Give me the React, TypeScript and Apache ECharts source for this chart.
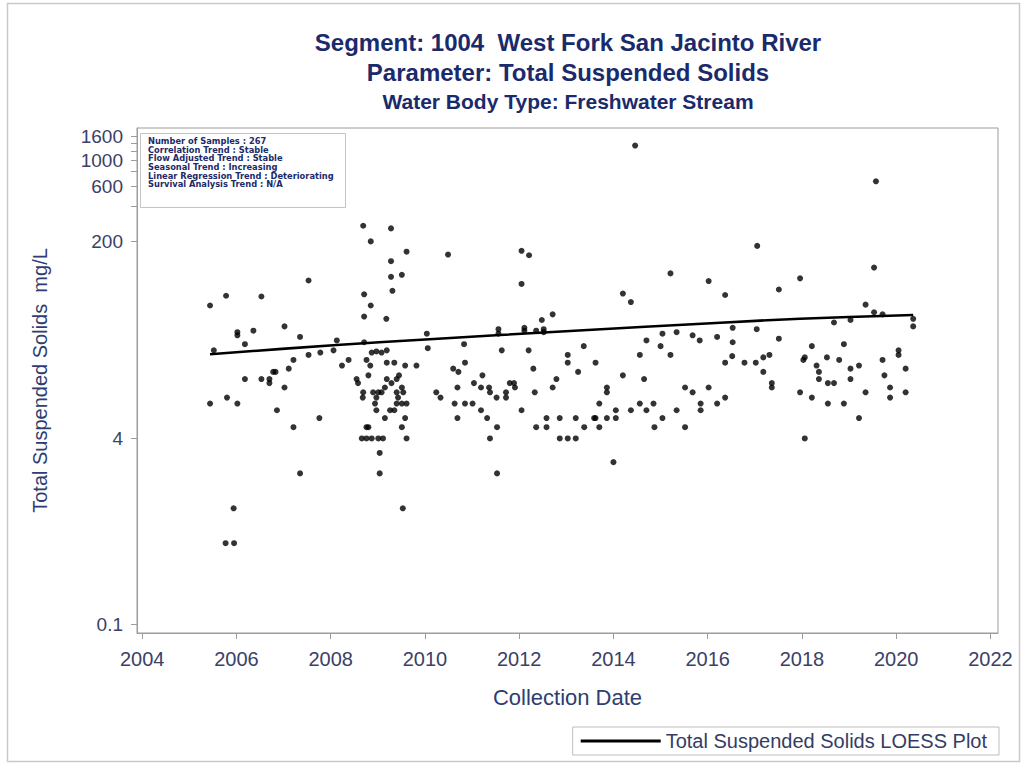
import React, { useEffect, useRef } from "react";
import * as echarts from "echarts";

const FONT = '"Liberation Sans", Arial, sans-serif';
const INFO_FONT = '"DejaVu Sans", "Liberation Sans", sans-serif';

const titleLines = [
  "Segment: 1004  West Fork San Jacinto River",
  "Parameter: Total Suspended Solids",
  "Water Body Type: Freshwater Stream",
];

const infoLines = [
  "Number of Samples : 267",
  "Correlation Trend : Stable",
  "Flow Adjusted Trend : Stable",
  "Seasonal Trend : Increasing",
  "Linear Regression Trend : Deteriorating",
  "Survival Analysis Trend : N/A",
];

const xTicks = [2004, 2006, 2008, 2010, 2012, 2014, 2016, 2018, 2020, 2022];
const yLabelTicks = [0.1, 4, 200, 600, 1000, 1600];
const yTickMarks = [0.1, 4, 200, 400, 600, 800, 1000, 1200, 1400, 1600];

const xAxisName = "Collection Date";
const yAxisName = "Total Suspended Solids  mg/L";
const loessName = "Total Suspended Solids LOESS Plot";

// [decimal year, mg/L]
const samples2005to2009: [number, number][] = [
  [2005.44, 56], [2005.44, 8], [2005.52, 23], [2005.77, 0.5], [2005.78, 68],
  [2005.8, 9], [2005.94, 1], [2005.95, 0.5], [2006.02, 33], [2006.02, 31],
  [2006.02, 8], [2006.18, 26], [2006.18, 13], [2006.36, 34], [2006.53, 67],
  [2006.53, 13], [2006.7, 13], [2006.7, 12], [2006.78, 15], [2006.83, 15],
  [2006.86, 7], [2007.02, 37], [2007.02, 11], [2007.11, 16], [2007.21, 19],
  [2007.21, 5], [2007.35, 30], [2007.35, 2], [2007.53, 92], [2007.53, 21],
  [2007.76, 6], [2007.78, 22], [2008.06, 23], [2008.13, 28], [2008.24, 17],
  [2008.38, 19], [2008.55, 13], [2008.58, 12], [2008.66, 4], [2008.68, 9],
  [2008.69, 273], [2008.69, 10], [2008.71, 70], [2008.71, 45], [2008.71, 27],
  [2008.76, 19], [2008.76, 5], [2008.76, 4], [2008.8, 14], [2008.8, 5],
  [2008.84, 17], [2008.85, 200], [2008.85, 56], [2008.87, 22], [2008.87, 4],
  [2008.9, 10], [2008.94, 8], [2008.97, 22.5], [2008.97, 9], [2008.97, 7],
  [2009.01, 10], [2009.01, 4], [2009.04, 3], [2009.04, 2], [2009.08, 22],
  [2009.08, 10], [2009.11, 4], [2009.15, 11], [2009.15, 6], [2009.18, 43],
  [2009.19, 23], [2009.19, 18], [2009.19, 13], [2009.26, 7], [2009.28, 259],
  [2009.28, 135], [2009.28, 99], [2009.29, 12], [2009.31, 75], [2009.35, 18],
  [2009.35, 7], [2009.4, 13], [2009.4, 10], [2009.4, 8], [2009.43, 9],
  [2009.45, 14], [2009.51, 103], [2009.51, 11], [2009.51, 8], [2009.51, 5],
  [2009.53, 1], [2009.54, 10], [2009.58, 17], [2009.58, 6], [2009.61, 163],
  [2009.61, 8], [2009.61, 4], [2009.82, 17],
];

const samples2010to2014: [number, number][] = [
  [2010.04, 32], [2010.06, 24], [2010.24, 10], [2010.33, 9], [2010.49, 154],
  [2010.6, 16], [2010.63, 8], [2010.69, 11], [2010.69, 6], [2010.71, 15],
  [2010.83, 26], [2010.85, 18], [2010.85, 8], [2011.01, 8], [2011.04, 12],
  [2011.19, 11], [2011.19, 7], [2011.22, 14], [2011.32, 6], [2011.36, 11],
  [2011.38, 10], [2011.38, 4], [2011.52, 9], [2011.53, 5], [2011.53, 2],
  [2011.56, 35], [2011.56, 32], [2011.63, 23], [2011.72, 10], [2011.72, 9],
  [2011.8, 12], [2011.89, 12], [2011.91, 11], [2012.05, 166], [2012.05, 86],
  [2012.05, 7], [2012.11, 36], [2012.11, 34], [2012.2, 23], [2012.21, 152],
  [2012.3, 16], [2012.33, 10], [2012.36, 34], [2012.36, 5], [2012.48, 42],
  [2012.52, 35], [2012.52, 33], [2012.58, 6], [2012.58, 5], [2012.71, 47],
  [2012.71, 11], [2012.79, 13], [2012.86, 6], [2012.86, 4], [2013.03, 21],
  [2013.03, 18], [2013.03, 4], [2013.2, 6], [2013.2, 4], [2013.25, 15],
  [2013.37, 25], [2013.38, 5], [2013.59, 6], [2013.62, 18], [2013.62, 6],
  [2013.7, 8], [2013.7, 5], [2013.86, 11], [2013.86, 10], [2013.86, 6],
  [2014.0, 2.5], [2014.05, 7], [2014.05, 6], [2014.2, 71], [2014.2, 14],
  [2014.37, 60], [2014.37, 7], [2014.46, 1340], [2014.56, 21], [2014.56, 8],
  [2014.65, 13], [2014.7, 28], [2014.7, 7], [2014.85, 8], [2014.87, 5],
];

const samples2015to2020: [number, number][] = [
  [2015.0, 25], [2015.04, 32], [2015.04, 6], [2015.21, 106], [2015.21, 21],
  [2015.34, 33], [2015.34, 7], [2015.52, 11], [2015.52, 5], [2015.68, 31],
  [2015.68, 10], [2015.83, 28], [2015.85, 8], [2015.85, 7], [2016.02, 91],
  [2016.02, 11], [2016.2, 30], [2016.2, 8], [2016.37, 69], [2016.37, 18],
  [2016.37, 9], [2016.52, 20.5], [2016.53, 36], [2016.53, 27], [2016.78, 18],
  [2017.02, 18], [2017.04, 35], [2017.05, 183], [2017.18, 20], [2017.18, 15],
  [2017.31, 21], [2017.36, 12], [2017.36, 11], [2017.51, 77], [2017.51, 29],
  [2017.96, 96], [2017.96, 10], [2018.03, 19], [2018.06, 20], [2018.06, 4],
  [2018.21, 25], [2018.21, 9], [2018.31, 17], [2018.36, 15], [2018.36, 13],
  [2018.53, 20], [2018.55, 12], [2018.55, 8], [2018.68, 40], [2018.68, 12],
  [2018.79, 19], [2018.89, 26], [2018.89, 8], [2019.03, 42], [2019.03, 16],
  [2019.03, 13], [2019.21, 17], [2019.21, 6], [2019.35, 57], [2019.35, 10],
  [2019.53, 119], [2019.53, 49], [2019.57, 659], [2019.71, 47], [2019.71, 19],
  [2019.75, 14], [2019.87, 11], [2019.87, 9], [2020.05, 23], [2020.05, 21],
  [2020.2, 16], [2020.2, 10], [2020.36, 43], [2020.36, 37],
];

const loessYears = [2005.44, 2008.13, 2010.1, 2013.08, 2016.27, 2017.96, 2020.36];
const loessValues = [21.3, 25.6, 28.7, 33.8, 39.8, 43.1, 46.4];

const TITLE_COLOR = "#1b2a6b";
const LABEL_COLOR = "#3a4168";
const NAME_COLOR = "#2e3d72";
const FRAME_COLOR = "#9c9c9c";

export default function App() {
  const ref = useRef<HTMLDivElement>(null);

  useEffect(() => {
    if (!ref.current) return;
    const chart = echarts.init(ref.current, undefined, { renderer: "svg" });

    const allSamples = [...samples2005to2009, ...samples2010to2014, ...samples2015to2020];
    const loessData = loessYears.map((y, i) => [y, loessValues[i]]);

    const titleSizes = [24, 24, 21];
    const titleYs = [42, 72, 101];

    chart.setOption({
      animation: false,
      backgroundColor: "#ffffff",
      textStyle: { fontFamily: FONT },
      grid: {
        left: 137,
        right: 28,
        top: 128,
        bottom: 134,
        show: true,
        borderColor: FRAME_COLOR,
        borderWidth: 1,
        backgroundColor: "transparent",
        containLabel: false,
        outerBoundsMode: "none",
      },
      xAxis: {
        type: "value",
        min: 2003.89,
        max: 2022.16,
        name: xAxisName,
        nameLocation: "middle",
        nameGap: 53,
        nameMoveOverlap: false,
        nameTextStyle: { fontSize: 22, color: NAME_COLOR, fontFamily: FONT },
        axisLine: { show: true, lineStyle: { color: FRAME_COLOR } },
        axisTick: {
          show: true,
          length: 6,
          customValues: xTicks,
          lineStyle: { color: FRAME_COLOR },
        },
        axisLabel: {
          customValues: xTicks,
          margin: 16,
          fontSize: 20,
          color: LABEL_COLOR,
          fontFamily: FONT,
          formatter: (v: number) => String(Math.round(v)),
        },
        splitLine: { show: false },
      },
      yAxis: {
        type: "log",
        logBase: 10,
        min: 0.0841,
        max: 1900,
        name: yAxisName,
        nameLocation: "middle",
        nameRotate: 90,
        nameGap: 87,
        nameMoveOverlap: false,
        nameTextStyle: { fontSize: 20, color: NAME_COLOR, fontFamily: FONT },
        axisLine: { show: true, lineStyle: { color: FRAME_COLOR } },
        axisTick: {
          show: true,
          length: 6,
          customValues: yTickMarks,
          lineStyle: { color: FRAME_COLOR },
        },
        axisLabel: {
          customValues: yLabelTicks,
          margin: 14,
          fontSize: 19,
          color: LABEL_COLOR,
          fontFamily: FONT,
          formatter: (v: number) => String(+Number(v).toPrecision(6)),
        },
        splitLine: { show: false },
        minorTick: { show: false },
      },
      legend: {
        data: [{ name: loessName, icon: "rect" }],
        right: 27,
        bottom: 12,
        itemWidth: 80,
        itemHeight: 3,
        itemGap: 10,
        padding: [4, 12, 4, 8],
        borderColor: "#bdbdbd",
        borderWidth: 1,
        backgroundColor: "#ffffff",
        selectedMode: false,
        itemStyle: { color: "#000000" },
        textStyle: { fontSize: 20, color: "#343c64", fontFamily: FONT },
      },
      graphic: [
        {
          type: "rect",
          silent: true,
          shape: { x: 7.5, y: 3.5, width: 1012, height: 758 },
          style: { fill: "none", stroke: "#c9c9c9", lineWidth: 1.5 },
          z: -1,
        },
        ...titleLines.map((t, i) => ({
          type: "text",
          silent: true,
          x: 568,
          y: titleYs[i],
          style: {
            text: t,
            textAlign: "center",
            textVerticalAlign: "middle",
            fontSize: titleSizes[i],
            fontWeight: "bold",
            fontFamily: FONT,
            fill: TITLE_COLOR,
          },
        })),
        {
          type: "group",
          silent: true,
          z: 10,
          children: [
            {
              type: "rect",
              shape: { x: 140.5, y: 133.5, width: 205, height: 74 },
              style: { fill: "#ffffff", stroke: "#c4c4c4", lineWidth: 1 },
            },
            {
              type: "text",
              x: 148,
              y: 136.5,
              style: {
                text: infoLines.join("\n"),
                fontSize: 8.3,
                fontWeight: "bold",
                fontFamily: INFO_FONT,
                lineHeight: 8.7,
                fill: "#1c2a6a",
              },
            },
          ],
        },
      ],
      series: [
        {
          name: "Samples",
          type: "scatter",
          data: allSamples,
          symbol: "circle",
          symbolSize: 6,
          itemStyle: { color: "#000000" },
          z: 3,
        },
        {
          name: loessName,
          type: "line",
          data: loessData,
          smooth: 0.3,
          symbol: "none",
          showSymbol: false,
          lineStyle: { color: "#000000", width: 2.6 },
          itemStyle: { color: "#000000" },
          z: 4,
        },
      ],
    });

    return () => chart.dispose();
  }, []);

  return (
    <div
      ref={ref}
      style={{ position: "fixed", left: 0, top: 0, width: 1026, height: 767, background: "#fff" }}
    />
  );
}
